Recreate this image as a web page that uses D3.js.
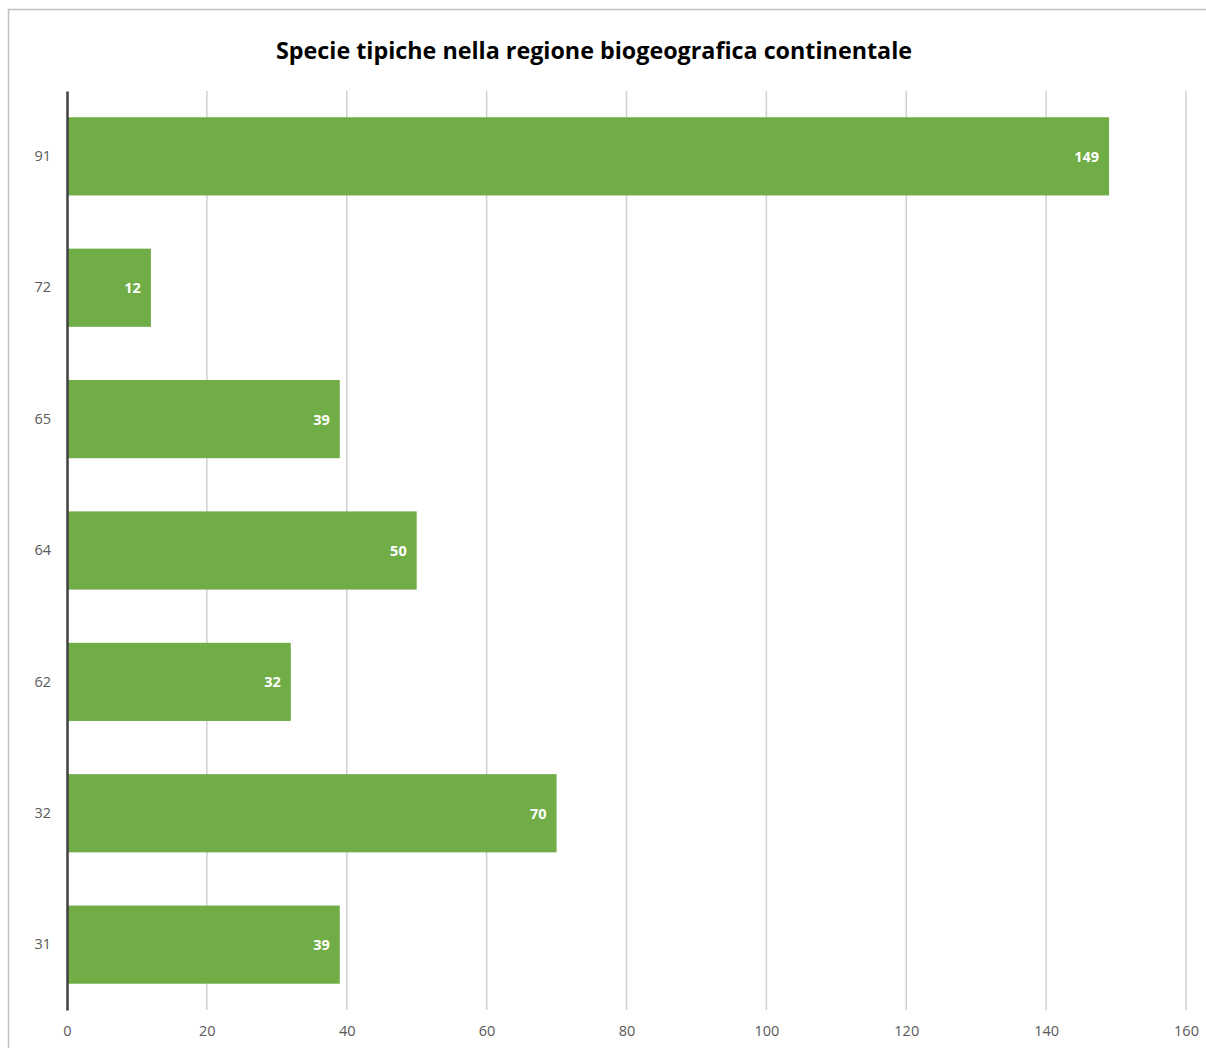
<!DOCTYPE html>
<html><head><meta charset="utf-8">
<script src="https://cdn.jsdelivr.net/npm/d3@7"></script>
<style>body{margin:0;background:#fff}svg{display:block}</style>
</head><body>
<script>
const categories = ["91","72","65","64","62","32","31"];
const values = [149,12,39,50,32,70,39];
const xTicks = [0,20,40,60,80,100,120,140,160];
const title = "Specie tipiche nella regione biogeografica continentale";

const W = 1206, H = 1048;
const m = {left:67, right:1206-1186, top:91, bottom:1048-1010};
const svg = d3.select("body").append("svg").attr("width",W).attr("height",H);
svg.append("rect").attr("x",8.5).attr("y",9.5).attr("width",1220).attr("height",1060)
  .attr("fill","#fff").attr("stroke","#c0c0c0").attr("stroke-width",1.5);

const x = d3.scaleLinear().domain([0,160]).range([m.left, W-m.right]);
const y = d3.scaleBand().domain(categories).range([m.top, H-m.bottom]).paddingInner(0.405).paddingOuter(0.2);

svg.append("text").attr("x",594).attr("y",59).attr("text-anchor","middle")
  .attr("font-family","'Open Sans', sans-serif").attr("font-weight","bold").attr("font-size",23.3)
  .attr("fill","#000").text(title);

// gridlines
svg.append("g").selectAll("line").data(xTicks.filter(d=>d>0)).join("line")
  .attr("x1",d=>x(d)).attr("x2",d=>x(d)).attr("y1",m.top).attr("y2",H-m.bottom)
  .attr("stroke","#d0d0d0").attr("stroke-width",1.5);

// bars
svg.append("g").selectAll("rect").data(values).join("rect")
  .attr("x",x(0)).attr("y",(d,i)=>y(categories[i]))
  .attr("width",d=>x(d)-x(0)).attr("height",y.bandwidth())
  .attr("fill","#70ad47");

// labels
svg.append("g").selectAll("text").data(values).join("text")
  .attr("x",d=>x(d)-10).attr("y",(d,i)=>y(categories[i])+y.bandwidth()/2)
  .attr("dy","0.38em").attr("text-anchor","end")
  .attr("font-family","'Open Sans', sans-serif").attr("font-weight","bold").attr("font-size",14.5)
  .attr("fill","#fff").text(d=>d);

// x axis labels
const xa = d3.axisBottom(x).tickValues(xTicks).tickSize(0).tickPadding(16);
svg.append("g").attr("transform",`translate(0,${H-m.bottom})`).call(xa)
  .call(g=>g.select(".domain").remove())
  .call(g=>g.selectAll("text").attr("font-family","'Open Sans', sans-serif").attr("font-size",14.5).attr("fill","#595959"));

// y axis
const ya = d3.axisLeft(y).tickSize(0).tickPadding(16);
svg.append("g").attr("transform",`translate(${x(0)},0)`).call(ya)
  .call(g=>g.select(".domain").attr("stroke","#404040").attr("stroke-width",2.5))
  .call(g=>g.selectAll("text").attr("font-family","'Open Sans', sans-serif").attr("font-size",14.5).attr("fill","#595959"));
</script>
</body></html>
